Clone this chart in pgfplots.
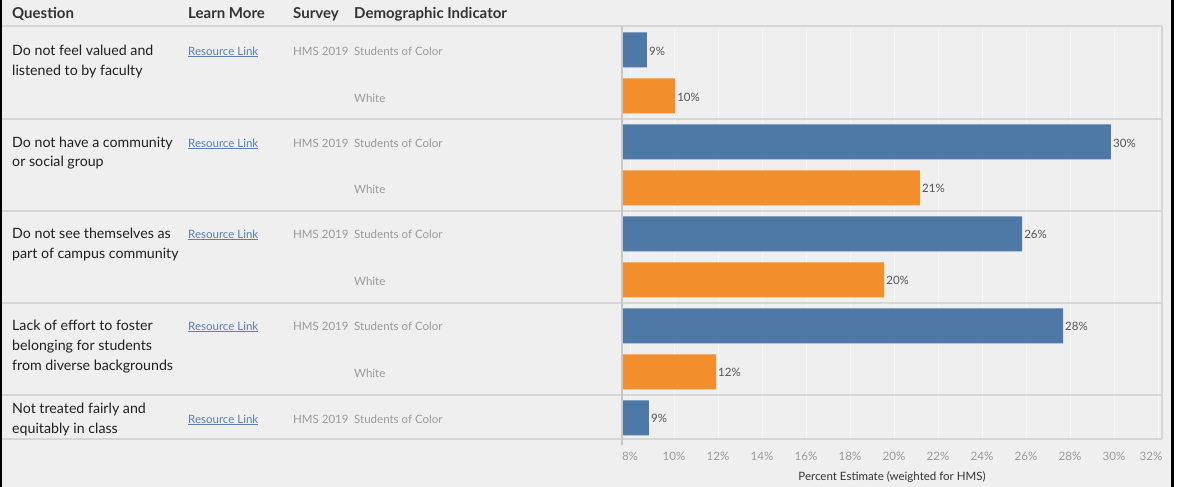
\documentclass[border=0pt]{standalone}
\usepackage{fontspec}
\setmainfont{Lato}
\usepackage{pgfplots}
\usepackage{pgfplotstable}
\pgfplotsset{compat=1.18}

\definecolor{bg}{HTML}{EFEFEF}
\definecolor{sepline}{HTML}{D6D6D6}
\definecolor{tblue}{HTML}{4E79A7}
\definecolor{torange}{HTML}{F28E2B}
\definecolor{linkblue}{HTML}{5A7FB0}
\definecolor{softgray}{HTML}{9A9A9A}
\definecolor{headtxt}{HTML}{333333}
\definecolor{valtxt}{HTML}{555555}

% students of color: value, slot (0 = top row)
\pgfplotstableread{
val pos
8.77  0
29.86 -2
25.82 -4
27.68 -6
8.86  -8
}\soctab
% white
\pgfplotstableread{
val pos
10.05 -1
21.18 -3
19.55 -5
11.91 -7
}\whitetab

\newcommand{\qline}[2]{\node[anchor=mid west,inner sep=0pt,font=\fontsize{14.2}{16}\selectfont,text=black!88] at (12,484.5-#1) {#2};}
\newcommand{\smalltxt}[4]{\node[anchor=mid west,inner sep=0pt,font=\fontsize{11.5}{13}\selectfont,text=#1] at (#2,484.5-#3) {#4};}
\newcommand{\headtxt}[2]{\node[anchor=mid west,inner sep=0pt,font=\fontsize{15}{17}\selectfont\bfseries,text=headtxt] at (#1,484.5-13) {#2};}
\newcommand{\rowlabels}[1]{%
  \smalltxt{linkblue}{188}{#1}{\underline{Resource Link}}
  \smalltxt{softgray}{293}{#1}{HMS 2019}
  \smalltxt{softgray}{354}{#1}{Students of Color}}

\begin{document}
\begin{tikzpicture}
\begin{scope}[x=1pt,y=1pt]
  \fill[bg] (0,0) rectangle (1178,487);
  \fill[white] (1174,0) rectangle (1178,487);
  \fill[black] (0,0) rectangle (1.6,487);
  \fill[black] (1171,0) rectangle (1174,487);
\end{scope}

\begin{axis}[
  at={(622pt,48pt)}, anchor=south west,
  width=540pt, height=413pt, scale only axis,
  xmin=7.636, xmax=32.18,
  ymin=-8.46, ymax=0.52,
  axis line style={draw=none},
  tick style={draw=none},
  ytick=\empty,
  /pgf/number format/assume math mode=true,
  xtick={8,10,...,32},
  xticklabels={\mbox{8\%},\mbox{10\%},\mbox{12\%},\mbox{14\%},\mbox{16\%},\mbox{18\%},\mbox{20\%},\mbox{22\%},\mbox{24\%},\mbox{26\%},\mbox{28\%},\mbox{30\%},\mbox{\hspace*{-14pt}32\%}},
  xticklabel style={anchor=center, yshift=-17pt, font=\fontsize{11.6}{13}\selectfont, text=softgray},
  xmajorgrids,
  grid style={white, opacity=0.45, line width=1pt},
  xlabel={Percent Estimate (weighted for HMS)},
  xlabel style={at={(axis description cs:0.5,0)}, anchor=center, yshift=-38pt, font=\fontsize{11.5}{13}\selectfont, text=headtxt},
  point meta=x,
  nodes near coords={\pgfmathprintnumber[fixed,precision=0]{\pgfplotspointmeta}\%},
  every node near coord/.append style={anchor=west, inner sep=2pt, yshift=-1pt, font=\fontsize{11.5}{13}\selectfont, text=valtxt},
]
  \addplot[xbar, bar width=35pt, bar shift=0pt, fill=tblue, draw=none] table[x=val,y=pos] {\soctab};
  \addplot[xbar, bar width=35pt, bar shift=0pt, fill=torange, draw=none] table[x=val,y=pos] {\whitetab};
\end{axis}

\begin{scope}[x=1pt,y=1pt]
  % row separators
  \draw[sepline, line width=1.6pt] (2,487-26) -- (1162,487-26);
  \draw[sepline, line width=1.6pt] (2,487-119) -- (1162,487-119);
  \draw[sepline, line width=1.6pt] (2,487-211) -- (1162,487-211);
  \draw[sepline, line width=1.6pt] (2,487-303) -- (1162,487-303);
  \draw[sepline, line width=1.6pt] (2,487-395) -- (1162,487-395);
  \draw[sepline, line width=1.6pt] (2,487-439) -- (1162,487-439);
  \draw[black!22, line width=1.3pt] (622,487-26) -- (622,487-445);
  \draw[sepline, line width=1.3pt] (1162,487-26) -- (1162,487-439);

  % header
  \headtxt{12}{Question}
  \headtxt{188}{Learn More}
  \headtxt{293}{Survey}
  \headtxt{354}{Demographic Indicator}

  % questions
  \qline{50}{Do not feel valued and}
  \qline{70}{listened to by faculty}
  \qline{142}{Do not have a community}
  \qline{161}{or social group}
  \qline{233}{Do not see themselves as}
  \qline{253}{part of campus community}
  \qline{325}{Lack of effort to foster}
  \qline{345}{belonging for students}
  \qline{365}{from diverse backgrounds}
  \qline{408}{Not treated fairly and}
  \qline{428}{equitably in class}

  \rowlabels{50}
  \rowlabels{142}
  \rowlabels{233}
  \rowlabels{325}
  \rowlabels{418}
  \smalltxt{softgray}{354}{97}{White}
  \smalltxt{softgray}{354}{188}{White}
  \smalltxt{softgray}{354}{280}{White}
  \smalltxt{softgray}{354}{372}{White}
\end{scope}
\end{tikzpicture}
\end{document}
